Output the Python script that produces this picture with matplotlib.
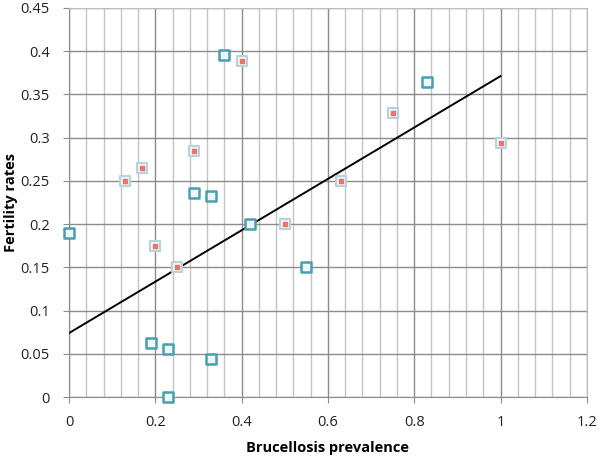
import matplotlib
matplotlib.use("Agg")
from matplotlib import pyplot as plt
from matplotlib.ticker import MultipleLocator

"""
Fertility rates against brucellosis prevalence, with a linear trend line
"""

# series drawn as teal squares
teal_x = [0.0, 0.29, 0.33, 0.36, 0.42, 0.19, 0.23, 0.33, 0.23, 0.55, 0.83]
teal_y = [0.19, 0.236, 0.232, 0.395, 0.2, 0.062, 0.056, 0.044, 0.0, 0.15, 0.364]

# series drawn as pale squares with a red centre
red_x = [0.13, 0.17, 0.2, 0.29, 0.40, 0.50, 0.25, 0.63, 0.75, 1.0]
red_y = [0.25, 0.265, 0.175, 0.285, 0.389, 0.2, 0.15, 0.25, 0.328, 0.294]

# trend line end points
trend_x = [0.0, 1.0]
trend_y = [0.074, 0.371]

x_ticks = [0, 0.2, 0.4, 0.6, 0.8, 1, 1.2]
x_labels = ['0', '0.2', '0.4', '0.6', '0.8', '1', '1.2']
y_ticks = [0, 0.05, 0.1, 0.15, 0.2, 0.25, 0.3, 0.35, 0.4, 0.45]
y_labels = ['0', '0.05', '0.1', '0.15', '0.2', '0.25', '0.3', '0.35', '0.4', '0.45']


def make_plot():
    plt.rcParams['font.family'] = ['Open Sans', 'DejaVu Sans']
    fig = plt.figure(figsize=(6, 4.58), dpi=100)
    ax = fig.add_axes([0.115, 0.133, 0.863, 0.85])

    ax.set_xlim(0, 1.2)
    ax.set_ylim(0, 0.45)
    ax.set_xticks(x_ticks)
    ax.set_xticklabels(x_labels)
    ax.set_yticks(y_ticks)
    ax.set_yticklabels(y_labels)
    ax.xaxis.set_minor_locator(MultipleLocator(0.04))

    ax.grid(True, which='major', color='#8c8c8c', linewidth=1.0)
    ax.grid(True, which='minor', axis='x', color='#c4c4c4', linewidth=1.0)
    ax.set_axisbelow(True)
    ax.tick_params(which='minor', length=0)
    ax.tick_params(which='major', length=4, color='#8c8c8c',
                   labelsize=10.5, labelcolor='#222222')
    ax.tick_params(axis='x', pad=9)
    ax.tick_params(axis='y', pad=10)
    for side in ['top', 'right']:
        ax.spines[side].set_color('#bdbdbd')
    for side in ['left', 'bottom']:
        ax.spines[side].set_color('#8c8c8c')

    ax.plot(trend_x, trend_y, color='black', linewidth=1.4, zorder=3)

    ax.scatter(teal_x, teal_y, marker='s', s=45, facecolor='#eef6f8',
               edgecolor='#4a9eae', linewidth=1.8, zorder=4, clip_on=False)
    ax.scatter(red_x, red_y, marker='s', s=45, facecolor='#f2f5f7',
               edgecolor='#b8d2dc', linewidth=1.5, zorder=4, clip_on=False)
    ax.scatter(red_x, red_y, marker='s', s=5, color='#e8746c', zorder=5)

    ax.set_xlabel('Brucellosis prevalence', fontsize=10.5, fontweight='bold')
    ax.set_ylabel('Fertility rates', fontsize=10.5, fontweight='bold')
    ax.xaxis.set_label_coords(0.5, -0.112)
    ax.yaxis.set_label_coords(-0.098, 0.5)

    fig.savefig('out.png')


if __name__ == '__main__':
    make_plot()
